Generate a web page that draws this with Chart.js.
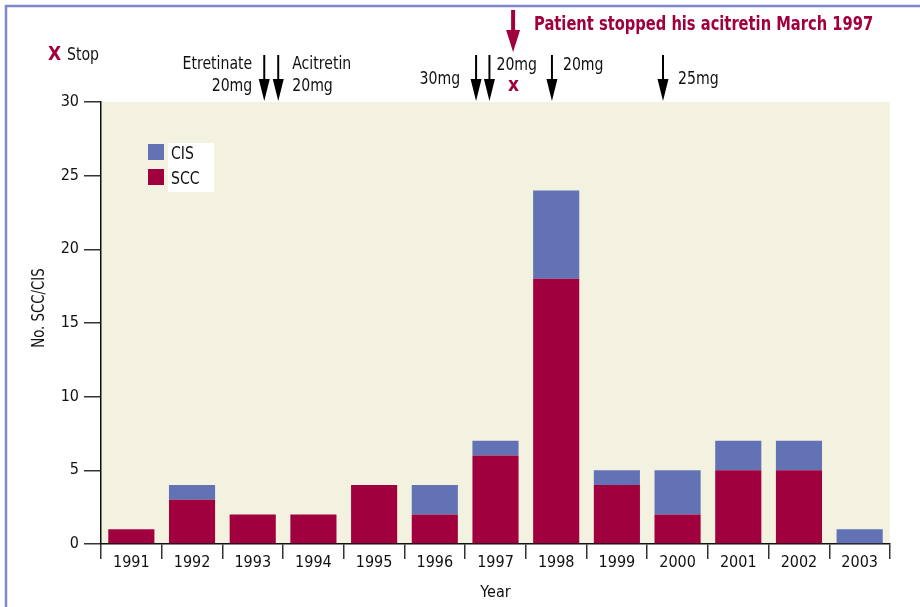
<!DOCTYPE html>
<html>
<head>
<meta charset="utf-8">
<script src="https://cdn.jsdelivr.net/npm/chart.js@4"></script>
<style>
  html, body { margin: 0; padding: 0; background: #fff; }
  #wrap { width: 920px; height: 607px; position: relative; }
</style>
</head>
<body>
<div id="wrap"><canvas id="c"></canvas></div>
<script>
// data
const years = ['1991','1992','1993','1994','1995','1996','1997','1998','1999','2000','2001','2002','2003'];
const scc = [1, 3, 2, 2, 4, 2, 6, 18, 4, 2, 5, 5, 0];
const cis = [0, 1, 0, 0, 0, 2, 1, 6, 1, 3, 2, 2, 1];
const yTicks = [0, 5, 10, 15, 20, 25, 30];

// treatment changes (fractional year) for the dose arrows
const doseDates = [1993.19, 1993.42, 1996.68, 1996.90, 1997.93, 1999.76];
const stopDate = 1997.29;

const FONT = '"DejaVu Sans Condensed", "DejaVu Sans", sans-serif';
const RED = '#a1003f';
const BLUE = '#6272b4';
const SQUEEZE = 0.87; // the original type is a condensed face

function arrow(ctx, x, y0, y1, w, headH, headW, color) {
  ctx.save();
  ctx.strokeStyle = color;
  ctx.fillStyle = color;
  ctx.lineWidth = w;
  ctx.beginPath();
  ctx.moveTo(x, y0);
  ctx.lineTo(x, y1 - headH + 2);
  ctx.stroke();
  ctx.beginPath();
  ctx.moveTo(x - headW / 2, y1 - headH);
  ctx.lineTo(x + headW / 2, y1 - headH);
  ctx.lineTo(x, y1);
  ctx.closePath();
  ctx.fill();
  ctx.restore();
}

function txt(ctx, s, x, y, align, sx, rot) {
  ctx.save();
  ctx.translate(x, y);
  if (rot) ctx.rotate(rot);
  ctx.scale(sx || SQUEEZE, 1);
  ctx.textAlign = align;
  ctx.textBaseline = 'middle';
  ctx.fillText(s, 0, 0);
  ctx.restore();
}

const decor = {
  id: 'decor',
  beforeDraw(chart) {
    const { ctx, chartArea: a } = chart;
    ctx.save();
    ctx.fillStyle = '#f3f2e0';
    ctx.fillRect(a.left, a.top, a.right - a.left, a.bottom - a.top);
    // frame
    ctx.strokeStyle = '#7f89c9';
    ctx.lineWidth = 2.5;
    ctx.beginPath();
    ctx.moveTo(6, 607);
    ctx.lineTo(6, 6);
    ctx.lineTo(920, 6);
    ctx.stroke();
    ctx.restore();
  },
  afterDraw(chart) {
    const { ctx } = chart;
    const xs = chart.scales.x;
    const px = d => xs.getPixelForValue(d - 1991);
    const p = doseDates.map(px);
    const ps = px(stopDate);

    doseDates.forEach((d, i) => arrow(ctx, p[i], 55, 101, 2, 22, 11, '#000'));
    arrow(ctx, ps, 10, 52, 4, 22, 14, RED);

    ctx.save();
    ctx.fillStyle = '#111';
    ctx.font = '18px ' + FONT;
    txt(ctx, 'Etretinate', p[0] - 12, 64, 'right');
    txt(ctx, '20mg', p[0] - 12, 86, 'right');
    txt(ctx, '30mg', p[2] - 16, 79, 'right');
    txt(ctx, 'Acitretin', p[1] + 14, 64, 'left');
    txt(ctx, '20mg', p[1] + 14, 86, 'left');
    txt(ctx, '20mg', p[3] + 7, 65, 'left');
    txt(ctx, '20mg', p[4] + 11, 65, 'left');
    txt(ctx, '25mg', p[5] + 15, 79, 'left');
    txt(ctx, 'Stop', 67, 55, 'left');
    // axis title, drawn here to sit where the original has it
    ctx.font = '17px ' + FONT;
    txt(ctx, 'No. SCC/CIS', 40, 308, 'center', SQUEEZE, -Math.PI / 2);

    ctx.fillStyle = RED;
    ctx.font = 'bold 20px ' + FONT;
    txt(ctx, 'X', 48, 55, 'left', 0.95);
    txt(ctx, 'x', ps - 5, 86, 'left', 0.95);
    const title = 'Patient stopped his acitretin March 1997';
    txt(ctx, title, ps + 21, 25, 'left', 339 / ctx.measureText(title).width);

    // legend
    ctx.fillStyle = '#fff';
    ctx.fillRect(168, 143, 46, 49);
    ctx.fillStyle = BLUE;
    ctx.fillRect(148, 144, 16, 16);
    ctx.fillStyle = RED;
    ctx.fillRect(148, 169, 16, 16);
    ctx.fillStyle = '#111';
    ctx.font = '18px ' + FONT;
    txt(ctx, 'CIS', 171, 154, 'left');
    txt(ctx, 'SCC', 171, 179, 'left');
    ctx.restore();
  }
};

new Chart(document.getElementById('c'), {
  type: 'bar',
  data: {
    labels: years,
    datasets: [
      { label: 'SCC', data: scc, backgroundColor: RED },
      { label: 'CIS', data: cis, backgroundColor: BLUE }
    ]
  },
  options: {
    responsive: true,
    maintainAspectRatio: false,
    animation: false,
    layout: { padding: { top: 102, right: 30, left: 0, bottom: 0 } },
    plugins: { legend: { display: false }, tooltip: { enabled: false } },
    datasets: { bar: { categoryPercentage: 1, barPercentage: 0.76 } },
    scales: {
      x: {
        stacked: true,
        offset: true,
        afterFit: s => { s.height = 63; },
        border: { color: '#111', width: 1.5 },
        grid: { offset: true, drawOnChartArea: false, tickLength: 15, color: '#333', lineWidth: 1.5 },
        ticks: { color: '#111', font: { family: FONT, size: 16 }, padding: -6 },
        title: { display: true, text: 'Year', color: '#111', font: { family: FONT, size: 16 }, padding: { top: 0, bottom: 5 } }
      },
      y: {
        stacked: true,
        min: 0,
        max: 30,
        afterFit: s => { s.width = 101; },
        afterBuildTicks: s => { s.ticks = yTicks.map(v => ({ value: v })); },
        border: { color: '#111', width: 1.5 },
        grid: { drawOnChartArea: false, tickLength: 17, color: '#333', lineWidth: 1.5 },
        ticks: { color: '#111', font: { family: FONT, size: 16 }, padding: 5 }
      }
    }
  },
  plugins: [decor]
});
</script>
</body>
</html>
